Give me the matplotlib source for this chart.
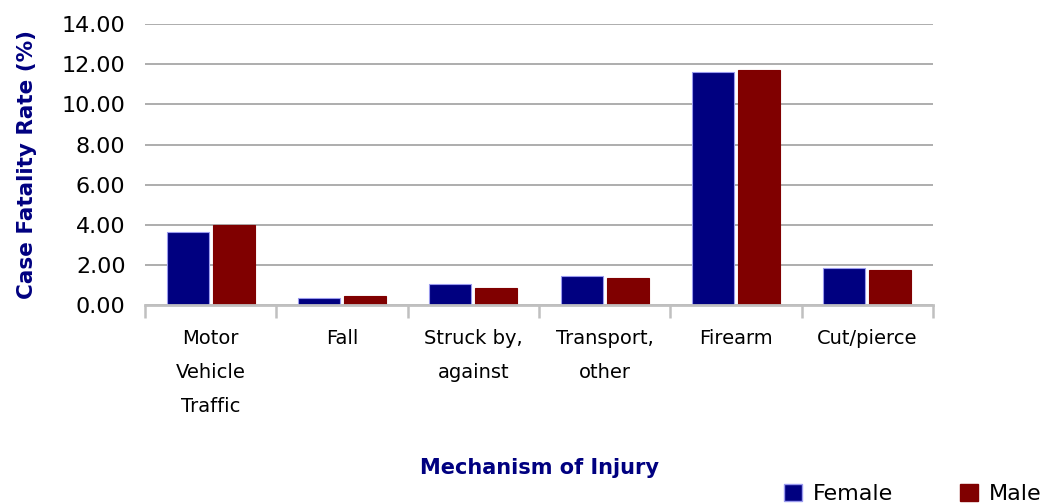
import numpy as np
import matplotlib.pyplot as plt
from matplotlib.patches import Patch

categories = ["Motor\nVehicle\nTraffic", "Fall", "Struck by,\nagainst",
              "Transport,\nother", "Firearm", "Cut/pierce"]
female = [3.64, 0.33, 1.03, 1.45, 11.60, 1.83]
male = [3.98, 0.45, 0.85, 1.35, 11.72, 1.74]
yticks = [0, 2, 4, 6, 8, 10, 12, 14]

navy = "#000080"
maroon = "#800000"

fig = plt.figure(figsize=(10.44, 5.04), dpi=100)
ax = fig.add_axes([0.1389, 0.3948, 0.7548, 0.5572])

x = np.arange(len(categories))
w = 0.32
ax.bar(x - w / 2 - 0.015, female, w, color=navy, edgecolor="#9a9aee", linewidth=0.8, zorder=3)
ax.bar(x + w / 2 + 0.015, male, w, color=maroon, edgecolor=maroon, linewidth=0.8, zorder=3)

ax.set_xlim(-0.5, len(categories) - 0.5)
ax.set_ylim(0, 14)
ax.set_yticks(yticks)
ax.set_yticklabels(["%.2f" % v for v in yticks], fontsize=16)
ax.yaxis.grid(True, color="#a0a0a0", linewidth=1.2, zorder=0)
ax.tick_params(axis="y", length=0, pad=14)

ax.set_xticks(x)
ax.set_xticklabels(categories, fontsize=14, linespacing=2.0, va="top")
ax.set_xticks(np.arange(len(categories) + 1) - 0.5, minor=True)
ax.tick_params(axis="x", which="major", length=0, pad=17)
ax.tick_params(axis="x", which="minor", length=9, width=1.8, color="#c0c0c0")

for s in ["left", "right", "top"]:
    ax.spines[s].set_visible(False)
ax.spines["bottom"].set_color("#c0c0c0")
ax.spines["bottom"].set_linewidth(2)
ax.spines["bottom"].set_zorder(4)

ax.set_ylabel("Case Fatality Rate (%)", fontsize=15.5, fontweight="bold", color=navy, labelpad=18)
fig.text(0.517, 0.071, "Mechanism of Injury", fontsize=15, fontweight="bold",
         color=navy, ha="center", va="center")

handles = [Patch(facecolor=navy, edgecolor="#9a9aee", label="Female"),
           Patch(facecolor=maroon, edgecolor=maroon, label="Male")]
fig.legend(handles=handles, loc="lower right", bbox_to_anchor=(1.017, -0.04), ncol=2,
           frameon=False, fontsize=16, handlelength=0.8, handleheight=0.8,
           handletextpad=0.5, columnspacing=3.0)

plt.savefig("out.png", dpi=100)
